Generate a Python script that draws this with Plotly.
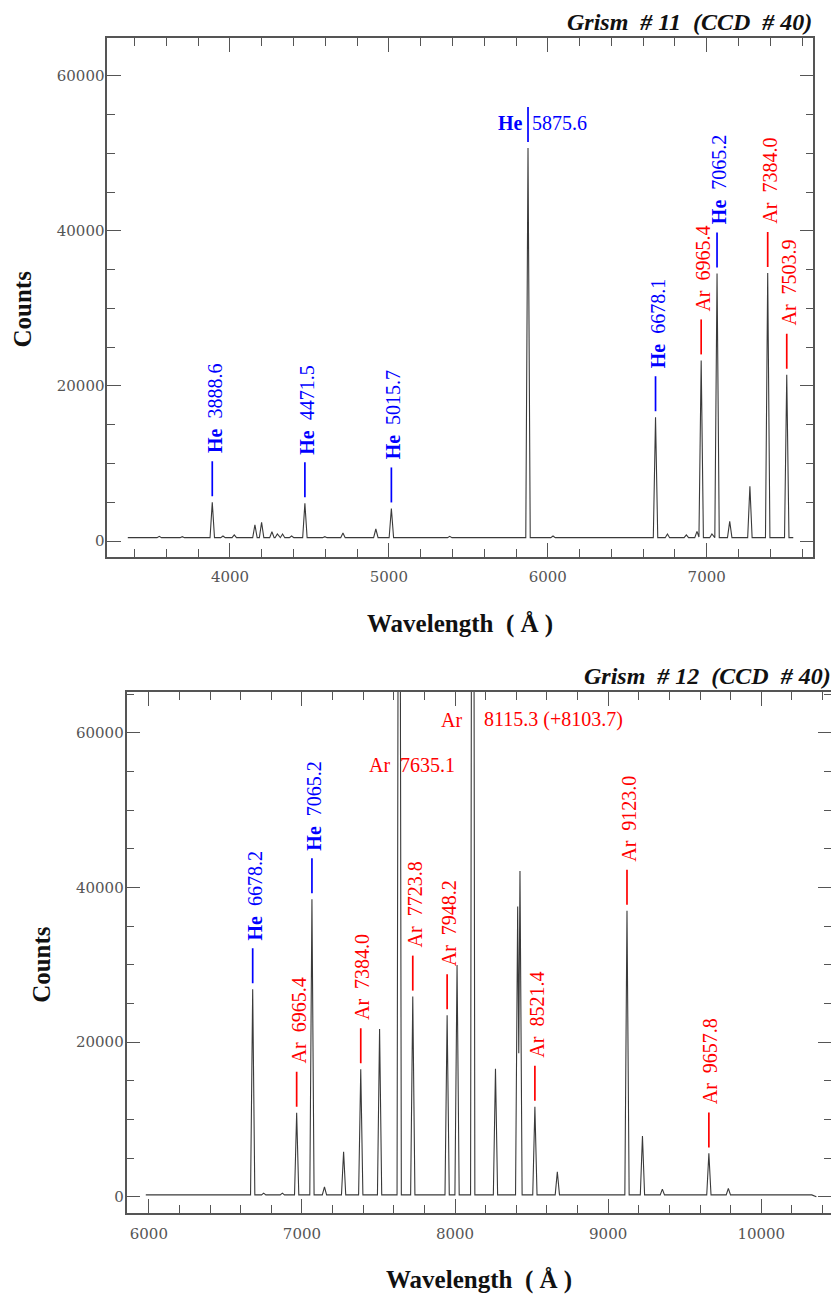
import numpy as np
import plotly.graph_objects as go

# ---------------------------------------------------------------- data
# Grism #11 (CCD #40): emission peaks (wavelength Å, counts)
g11_peak_wl = [3555, 3700, 3888.6, 3956, 4027, 4157, 4199, 4264, 4298, 4331, 4388,
               4471.5, 4597, 4711, 4918, 5015.7, 5383, 5875.6, 6033, 6411, 6678.1,
               6753, 6872, 6939, 6965.4, 7033, 7065.2, 7145, 7272, 7384.0, 7503.9]
g11_peak_counts = [600, 560, 5000, 650, 800, 2100, 2400, 1200, 900, 900, 650,
                   4860, 560, 1030, 1550, 4200, 600, 50700, 650, 520, 15970,
                   900, 800, 1240, 23300, 900, 34500, 2540, 7060, 34580, 21450]
g11_cont_wl = [3357, 7545]
g11_cont_counts = [430, 430]

# identified lines, Grism #11
g11_line_wl = [3888.6, 4471.5, 5015.7, 5875.6, 6678.1, 6965.4, 7065.2, 7384.0, 7503.9]
g11_line_ion = ["He", "He", "He", "He", "He", "Ar", "He", "Ar", "Ar"]
g11_line_text = ["3888.6", "4471.5", "5015.7", "5875.6", "6678.1", "6965.4",
                 "7065.2", "7384.0", "7503.9"]

# Grism #12 (CCD #40)
g12_peak_wl = [6678.2, 6750, 6872, 6965.4, 7065.2, 7147, 7272, 7384.0, 7507, 7635.1,
               7723.8, 7948.2, 8013, 8115.3, 8264, 8409, 8424, 8521.4, 8668, 9123.0,
               9224, 9354, 9657.8, 9785]
g12_peak_counts = [26850, 480, 480, 10870, 38500, 1300, 5830, 16500, 21700, 150000,
                   25900, 23500, 30000, 180000, 16570, 37540, 42160, 11650, 3240, 37000,
                   7860, 1000, 5620, 1090]
g12_cont_wl = [5980, 10330, 10360]
g12_cont_counts = [250, 250, 0]

g12_line_wl = [6678.2, 6965.4, 7065.2, 7384.0, 7635.1, 7723.8, 7948.2, 8115.3,
               8521.4, 9123.0, 9657.8]
g12_line_ion = ["He", "Ar", "He", "Ar", "Ar", "Ar", "Ar", "Ar", "Ar", "Ar", "Ar"]
g12_line_text = ["6678.2", "6965.4", "7065.2", "7384.0", "7635.1", "7723.8", "7948.2",
                 "8115.3 (+8103.7)", "8521.4", "9123.0", "9657.8"]

x_title = "Wavelength\u00a0\u00a0( Å )"
y_title = "Counts"

# ---------------------------------------------------------------- layout constants
W, H = 839, 1297
PAGE_OFF = 8          # the page body margin shifts the figure by this much
SERIF = "Liberation Serif"
TICKFONT = dict(family="DejaVu Serif", size=15, color="#555555")
AXC = "#555555"
BLUE, RED = "#0000ff", "#ff0000"

panels = {
    "top": dict(px_x=(107.3, 813.3), px_y=(38, 556.5), xr=[3228, 7671], yr=[-2000, 64900]),
    "bot": dict(px_x=(126.5, 832), px_y=(692, 1212.7), xr=[5854, 10462], yr=[-2050, 65300]),
}


def px2paper_x(px):
    return (px - PAGE_OFF) / W


def px2paper_y(py):
    return 1 - (py - PAGE_OFF) / H


def spectrum_path(peak_wl, peak_counts, cont_wl, cont_counts, hw):
    peaks = sorted(zip(peak_wl, peak_counts))
    xs = set(cont_wl)
    for c, h in peaks:
        xs.update((c - hw, c, c + hw))
    for (c1, h1), (c2, h2) in zip(peaks, peaks[1:]):
        if c2 - c1 < 2 * hw:
            b = float(np.interp(c1, cont_wl, cont_counts))
            a1, a2 = h1 - b, h2 - b
            xs.add((hw * (a1 - a2) + a1 * c1 + a2 * c2) / (a1 + a2))
    xs = sorted(x for x in xs if cont_wl[0] <= x <= cont_wl[-1])
    ys = []
    for x in xs:
        base = float(np.interp(x, cont_wl, cont_counts))
        y = base
        for c, h in peaks:
            d = abs(x - c)
            if d < hw:
                y = max(y, base + (h - base) * (1 - d / hw))
        ys.append(y)
    return xs, ys


fig = go.Figure()

x11, y11 = spectrum_path(g11_peak_wl, g11_peak_counts, g11_cont_wl, g11_cont_counts, 14)
x12, y12 = spectrum_path(g12_peak_wl, g12_peak_counts, g12_cont_wl, g12_cont_counts, 14)

fig.add_trace(go.Scatter(x=x11, y=y11, mode="lines", xaxis="x", yaxis="y",
                         line=dict(color="#3a3a3a", width=1.1), showlegend=False,
                         hoverinfo="skip"))
fig.add_trace(go.Scatter(x=x12, y=y12, mode="lines", xaxis="x2", yaxis="y2",
                         line=dict(color="#3a3a3a", width=1.1), showlegend=False,
                         hoverinfo="skip"))


def axis(domain, rng, dtick, minor_dtick, anchor):
    return dict(domain=domain, range=rng, dtick=dtick, tick0=0, anchor=anchor,
                tickformat="d",
                showline=True, linecolor=AXC, linewidth=1.6, mirror="allticks",
                ticks="inside", ticklen=14, tickwidth=1.4, tickcolor=AXC,
                showgrid=False, zeroline=False, tickfont=TICKFONT, automargin=False,
                minor=dict(ticks="inside", ticklen=8, tickwidth=1.2, tickcolor=AXC,
                           dtick=minor_dtick, tick0=0, showgrid=False))


layout_axes = {}
for key, xa, ya in (("top", "xaxis", "yaxis"), ("bot", "xaxis2", "yaxis2")):
    p = panels[key]
    xdom = [px2paper_x(p["px_x"][0]), px2paper_x(p["px_x"][1])]
    ydom = [px2paper_y(p["px_y"][1]), px2paper_y(p["px_y"][0])]
    xanchor = "y" if key == "top" else "y2"
    yanchor = "x" if key == "top" else "x2"
    layout_axes[xa] = axis(xdom, p["xr"], 1000, 200, xanchor)
    layout_axes[xa]["ticklabelstandoff"] = 6
    layout_axes[ya] = axis(ydom, p["yr"], 20000, 5000, yanchor)
    layout_axes[ya]["ticklabelstandoff"] = -2

annotations = []
shapes = []

# ---- titles
for key, title in (("top", "Grism\u00a0\u00a0# 11\u00a0\u00a0(CCD\u00a0\u00a0# 40)"),
                   ("bot", "Grism\u00a0\u00a0# 12\u00a0\u00a0(CCD\u00a0\u00a0# 40)")):
    p = panels[key]
    annotations.append(dict(
        text="<b><i>%s</i></b>" % title, xref="paper", yref="paper",
        x=px2paper_x(p["px_x"][1] + 1), y=px2paper_y(p["px_y"][0] - 16),
        xanchor="right", yanchor="middle", showarrow=False,
        font=dict(family=SERIF, size=24, color="#111111")))
    cx = (p["px_x"][0] + p["px_x"][1]) / 2
    annotations.append(dict(
        text="<b>%s</b>" % x_title, xref="paper", yref="paper",
        x=px2paper_x(cx), y=px2paper_y(p["px_y"][1] + 67),
        xanchor="center", yanchor="middle", showarrow=False,
        font=dict(family=SERIF, size=25, color="#111111")))
    annotations.append(dict(
        text="<b>%s</b>" % y_title, xref="paper", yref="paper", textangle=-90,
        x=px2paper_x(p["px_x"][0] - 85), y=px2paper_y((p["px_y"][0] + p["px_y"][1]) / 2 + 12),
        xanchor="center", yanchor="middle", showarrow=False,
        font=dict(family=SERIF, size=25, color="#111111")))

# ---- line identifications
GAP_PX, SEG_PX, TXT_PX = 6, 35, 8
horiz_style = {  # (y counts, ion shift px, number shift px, has marker)
    ("top", 5875.6): (None, -5, 4, True),
    ("bot", 7635.1): (55900, -9, 1, False),
    ("bot", 8115.3): (61700, -11, 11, False),
}


def label_panel(key, xref, yref, line_wl, line_ion, line_text, peak_wl, peak_counts):
    p = panels[key]
    cpp = (p["yr"][1] - p["yr"][0]) / (p["px_y"][1] - p["px_y"][0])
    pw = np.array(peak_wl)
    for wl, ion, txt in zip(line_wl, line_ion, line_text):
        col = BLUE if ion == "He" else RED
        ion_txt = "<b>He</b>" if ion == "He" else "Ar"
        h = peak_counts[int(np.argmin(np.abs(pw - wl)))]
        y0 = min(h, p["yr"][1]) + GAP_PX * cpp
        y1 = y0 + SEG_PX * cpp
        hs = horiz_style.get((key, wl))
        if hs is None:
            shapes.append(dict(type="line", xref=xref, yref=yref, x0=wl, x1=wl,
                               y0=y0, y1=y1, line=dict(color=col, width=1.7)))
            annotations.append(dict(
                text=ion_txt + "\u00a0\u00a0" + txt, xref=xref, yref=yref,
                x=wl, y=y1, xanchor="center", yanchor="bottom", textangle=-90,
                xshift=2, yshift=TXT_PX - 2, showarrow=False,
                font=dict(family=SERIF, size=20, color=col)))
        else:
            ytxt, s_ion, s_num, marker = hs
            if marker:
                shapes.append(dict(type="line", xref=xref, yref=yref, x0=wl, x1=wl,
                                   y0=y0, y1=y1, line=dict(color=col, width=1.7)))
                ytxt = (y0 + y1) / 2 + 2 * cpp
            annotations.append(dict(
                text=ion_txt, xref=xref, yref=yref, x=wl, y=ytxt,
                xanchor="right", yanchor="middle", xshift=s_ion + 2, showarrow=False,
                font=dict(family=SERIF, size=20, color=col)))
            annotations.append(dict(
                text=txt, xref=xref, yref=yref, x=wl, y=ytxt,
                xanchor="left", yanchor="middle", xshift=s_num - 2, showarrow=False,
                font=dict(family=SERIF, size=20, color=col)))


label_panel("top", "x", "y", g11_line_wl, g11_line_ion, g11_line_text,
            g11_peak_wl, g11_peak_counts)
label_panel("bot", "x2", "y2", g12_line_wl, g12_line_ion, g12_line_text,
            g12_peak_wl, g12_peak_counts)

fig.update_layout(
    width=W, height=H, autosize=False,
    margin=dict(l=0, r=0, t=0, b=0),
    paper_bgcolor="white", plot_bgcolor="white",
    showlegend=False,
    annotations=annotations, shapes=shapes,
    **layout_axes,
)

fig.write_html("out.html")
